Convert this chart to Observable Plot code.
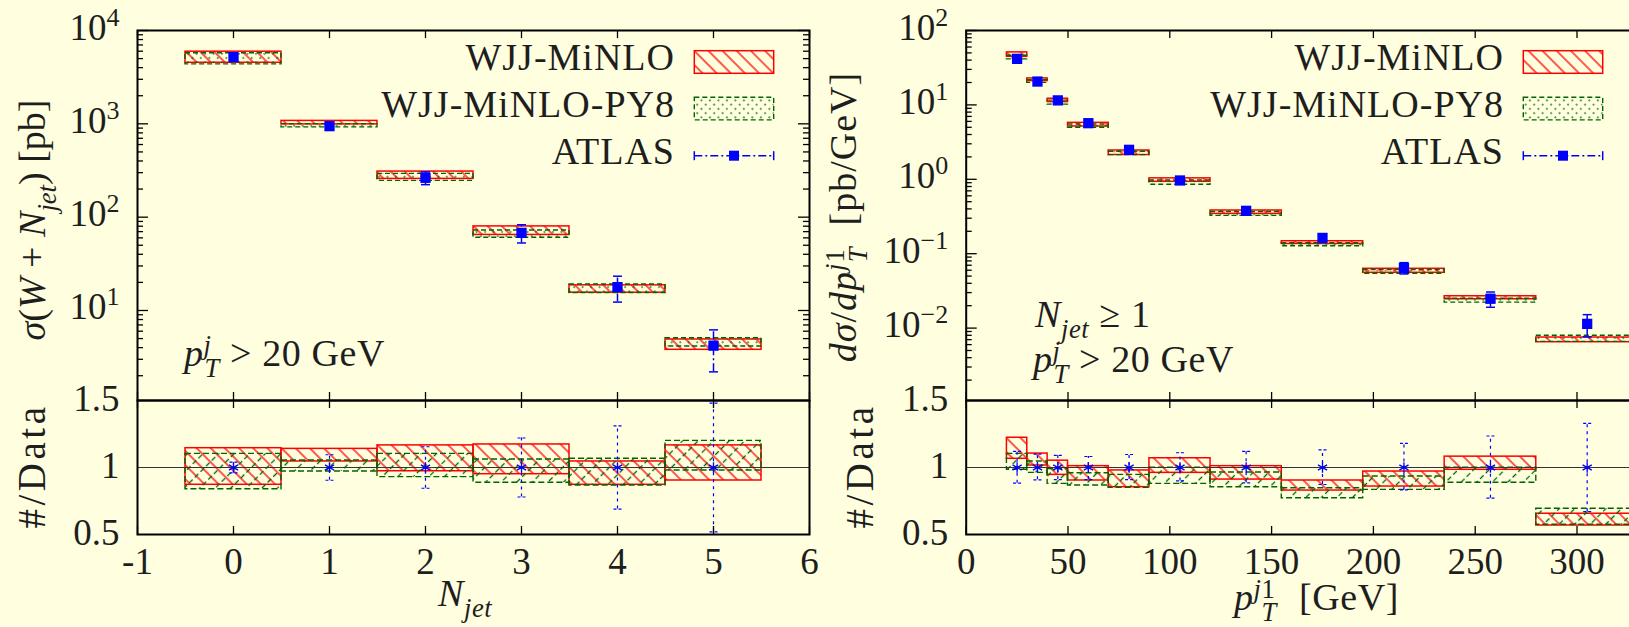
<!DOCTYPE html>
<html>
<head>
<meta charset="utf-8">
<script src="https://cdn.jsdelivr.net/npm/d3@7"></script>
<script src="https://cdn.jsdelivr.net/npm/@observablehq/plot@0.6"></script>
<style>
  html, body { margin: 0; padding: 0; background: #ffffe0; overflow: hidden; }
  #fig { position: relative; width: 1629px; height: 627px; overflow: hidden; background: #ffffe0; }
  #fig svg.panel { position: absolute; max-width: none; overflow: visible; }
  #fig svg text, #fig svg tspan { font-family: "Liberation Serif", "DejaVu Serif", serif !important; }
</style>
</head>
<body>
<svg width="0" height="0" style="position:absolute;left:0;top:0">
  <defs>
    <pattern id="hatchRed" patternUnits="userSpaceOnUse" width="10" height="10" patternTransform="rotate(-45)">
      <line x1="5" y1="-1" x2="5" y2="11" stroke="#ff0000" stroke-width="1.3"/>
    </pattern>
    <pattern id="hatchGreen" patternUnits="userSpaceOnUse" width="11" height="16" patternTransform="rotate(45)">
      <line x1="5.5" y1="0" x2="5.5" y2="16" stroke="#006400" stroke-width="1.3" stroke-dasharray="5,3"/>
    </pattern>
    <pattern id="dotsGreen" patternUnits="userSpaceOnUse" width="6" height="6" patternTransform="rotate(45)">
      <line x1="3" y1="0" x2="3" y2="6" stroke="#006400" stroke-width="1.2" stroke-dasharray="2,4"/>
    </pattern>
  </defs>
</svg>
<div id="fig"></div>
<script>
// ---------- W + jets exclusive jet multiplicity ----------
const njetX   = [0, 1, 2, 3, 4, 5];
const njetLo  = [-0.5, 0.5, 1.5, 2.5, 3.5, 4.5];
const njetHi  = [0.5, 1.5, 2.5, 3.5, 4.5, 5.5];
const njetAtlas    = [5180, 944, 264, 67.9, 17.8, 4.2];
const njetAtlasErr = [207, 90, 41, 15, 5.5, 2.0];
const njetMinloLo  = [4510, 986, 257, 64.5, 15.5, 3.79];
const njetMinloHi  = [5930, 1075, 308, 79.6, 18.6, 4.89];
const njetPy8Lo    = [4340, 916, 245, 60.2, 15.4, 4.11];
const njetPy8Hi    = [5710, 993, 291, 72.0, 19.0, 5.04];
const njetRatioMinloLo = [0.871, 1.045, 0.972, 0.950, 0.871, 0.903];
const njetRatioMinloHi = [1.144, 1.139, 1.165, 1.172, 1.045, 1.165];
const njetRatioPy8Lo   = [0.838, 0.970, 0.928, 0.886, 0.866, 0.978];
const njetRatioPy8Hi   = [1.102, 1.052, 1.102, 1.060, 1.065, 1.199];
const njetRatioAtlasErr = [0.04, 0.095, 0.155, 0.22, 0.31, 0.48];

// ---------- leading-jet transverse momentum ----------
const ptX  = [25, 35, 45, 60, 80, 105, 137.5, 175, 215, 257.5, 305];
const ptLo = [20, 30, 40, 50, 70, 90, 120, 155, 195, 235, 280];
const ptHi = [30, 40, 50, 70, 90, 120, 155, 195, 235, 280, 330];
const ptAtlas    = [41.6, 20.6, 11.5, 5.68, 2.49, 0.964, 0.377, 0.163, 0.0646, 0.0248, 0.0114];
const ptAtlasErr = [5.0, 2.06, 1.04, 0.48, 0.24, 0.101, 0.044, 0.0212, 0.0112, 0.00575, 0.00376];
const ptMinloLo  = [44.3, 20.9, 10.9, 5.13, 2.12, 0.925, 0.343, 0.135, 0.0554, 0.0244, 0.00646];
const ptMinloHi  = [50.8, 22.7, 12.1, 5.74, 2.44, 1.03, 0.381, 0.147, 0.0627, 0.0268, 0.00747];
const ptPy8Lo    = [40.9, 19.8, 10.1, 4.92, 2.11, 0.846, 0.322, 0.126, 0.0538, 0.0220, 0.00653];
const ptPy8Hi    = [45.8, 21.5, 11.4, 5.44, 2.35, 0.962, 0.363, 0.138, 0.0603, 0.0248, 0.00789];
const ptRatioMinloLo = [1.065, 1.015, 0.945, 0.903, 0.853, 0.960, 0.910, 0.828, 0.858, 0.983, 0.567];
const ptRatioMinloHi = [1.222, 1.104, 1.051, 1.010, 0.978, 1.069, 1.010, 0.903, 0.970, 1.081, 0.655];
const ptRatioPy8Lo   = [0.983, 0.960, 0.878, 0.866, 0.848, 0.878, 0.853, 0.771, 0.833, 0.886, 0.573];
const ptRatioPy8Hi   = [1.102, 1.045, 0.988, 0.957, 0.945, 0.998, 0.963, 0.845, 0.933, 0.998, 0.692];
const ptRatioAtlasUp = [0.12, 0.10, 0.09, 0.082, 0.097, 0.11, 0.12, 0.132, 0.18, 0.235, 0.33];
const ptRatioAtlasDn = [0.117, 0.092, 0.09, 0.09, 0.09, 0.10, 0.114, 0.127, 0.167, 0.229, 0.33];

// ---------- axis ticks ----------
const njetTicks = [-1, 0, 1, 2, 3, 4, 5, 6];
const ptTicks = [0, 50, 100, 150, 200, 250, 300, 350];
const ptTickLabels = [0, 50, 100, 150, 200, 250, 300];
const njetDecades = [1e1, 1e2, 1e3, 1e4];
const ptDecades = [1e-2, 1e-1, 1e0, 1e1, 1e2];
const ratioTicks = [0.5, 1, 1.5];

const FONT = '"Liberation Serif", "DejaVu Serif", serif';
const INK = "#1e1e1e";
const RED = "#ff0000", GREEN = "#006400", BLUE = "#0000ff";

// horizontal bar used as error-bar end cap
const capSymbol = {draw(ctx, size) { const w = Math.sqrt(size / Math.PI); ctx.moveTo(-w, 0); ctx.lineTo(w, 0); }};

function logMinor([lo, hi]) {
  const out = [];
  for (let e = Math.floor(Math.log10(lo)); e <= Math.ceil(Math.log10(hi)); e++)
    for (let m = 2; m <= 9; m++) { const v = m * 10 ** e; if (v >= lo && v <= hi) out.push(v); }
  return out;
}

function frameTicks({xTicks, innerW, innerH, yMajor = [], yMinor = []}) {
  const s = {stroke: "black", strokeWidth: 1.3};
  return [
    Plot.tickX(xTicks, {x: d => d, insetBottom: innerH - 8, ...s}),
    Plot.tickX(xTicks, {x: d => d, insetTop: innerH - 8, ...s}),
    Plot.tickY(yMajor, {y: d => d, insetRight: innerW - 11, ...s}),
    Plot.tickY(yMajor, {y: d => d, insetLeft: innerW - 11, ...s}),
    Plot.tickY(yMinor, {y: d => d, insetRight: innerW - 6, ...s}),
    Plot.tickY(yMinor, {y: d => d, insetLeft: innerW - 6, ...s})
  ];
}

function topMarks(n, c) {
  const idx = d3.range(n);
  return [
    Plot.rect(idx, {x1: i => c.lo[i], x2: i => c.hi[i], y1: i => c.mlo[i], y2: i => c.mhi[i],
      fill: "url(#hatchRed)", stroke: RED, strokeWidth: 1.5}),
    Plot.rect(idx, {x1: i => c.lo[i], x2: i => c.hi[i], y1: i => c.plo[i], y2: i => c.phi[i],
      fill: "url(#dotsGreen)", stroke: GREEN, strokeWidth: 1.4, strokeDasharray: "5,3"}),
    Plot.ruleX(idx, {x: i => c.x[i], y1: i => c.d[i] - c.e[i], y2: i => c.d[i] + c.e[i],
      stroke: BLUE, strokeWidth: 1.5, strokeDasharray: "8,3,2,3"}),
    Plot.dot(idx, {x: i => c.x[i], y: i => c.d[i] + c.e[i], symbol: capSymbol, r: 4.5, stroke: BLUE, strokeWidth: 1.5}),
    Plot.dot(idx, {x: i => c.x[i], y: i => c.d[i] - c.e[i], symbol: capSymbol, r: 4.5, stroke: BLUE, strokeWidth: 1.5}),
    Plot.dot(idx, {x: i => c.x[i], y: i => c.d[i], symbol: "square", r: 5.8, fill: BLUE, stroke: "none"})
  ];
}

function ratioMarks(n, c) {
  const idx = d3.range(n);
  return [
    Plot.rect(idx, {x1: i => c.lo[i], x2: i => c.hi[i], y1: i => c.mlo[i], y2: i => c.mhi[i],
      fill: "url(#hatchRed)", stroke: RED, strokeWidth: 1.5}),
    Plot.rect(idx, {x1: i => c.lo[i], x2: i => c.hi[i], y1: i => c.plo[i], y2: i => c.phi[i],
      fill: "url(#hatchGreen)", stroke: GREEN, strokeWidth: 1.4, strokeDasharray: "6,3"}),
    Plot.ruleX(idx, {x: i => c.x[i], y1: i => 1 - c.dn[i], y2: i => 1 + c.up[i],
      stroke: BLUE, strokeWidth: 1.2, strokeDasharray: "3,4"}),
    Plot.dot(idx, {x: i => c.x[i], y: i => 1 + c.up[i], symbol: capSymbol, r: 4, stroke: BLUE, strokeWidth: 1.2, strokeDasharray: "3,2"}),
    Plot.dot(idx, {x: i => c.x[i], y: i => 1 - c.dn[i], symbol: capSymbol, r: 4, stroke: BLUE, strokeWidth: 1.2, strokeDasharray: "3,2"}),
    Plot.ruleY([1], {stroke: "#333", strokeWidth: 1.2}),
    Plot.dot(idx, {x: i => c.x[i], y: 1, symbol: "asterisk", r: 5, stroke: BLUE, strokeWidth: 1.3})
  ];
}

function logLabels(vals) {
  return Plot.text(vals, {y: d => d, text: d => "10^" + Math.round(Math.log10(d)), frameAnchor: "left",
    textAnchor: "end", lineAnchor: "bottom", dx: -18, dy: 9, fontSize: 37, fill: INK, fontFamily: FONT});
}
function ratioLabels() {
  return Plot.text(ratioTicks, {y: d => d, text: d => String(d), frameAnchor: "left",
    textAnchor: "end", lineAnchor: "bottom", dx: -18, dy: 10, fontSize: 37, fill: INK, fontFamily: FONT});
}
function xLabels(vals) {
  return Plot.text(vals, {x: d => d, text: d => String(d), frameAnchor: "bottom",
    lineAnchor: "bottom", dy: 39, fontSize: 37, fill: INK, fontFamily: FONT});
}

// turn "10^k" strings into a base with a raised exponent
function superscripts(svg) {
  d3.select(svg).selectAll("text").each(function () {
    const m = /^10\^(-?\d+)$/.exec(this.textContent);
    if (!m) return;
    const t = d3.select(this);
    t.text(null);
    t.append("tspan").text("10");
    t.append("tspan").attr("dy", -14).attr("font-size", 26).text(m[1].replace("-", "\u2212"));
  });
}

// text built from runs: [string, {i, sub, sup, dx}]
function rich(svg, {x, y, rotate = 0, anchor = "start", size = 38, spacing = 0.6, parts}) {
  const t = d3.select(svg).append("text")
    .attr("transform", `translate(${x},${y})` + (rotate ? ` rotate(${rotate})` : ""))
    .attr("text-anchor", anchor).attr("font-family", FONT).attr("font-size", size)
    .attr("fill", INK).attr("letter-spacing", spacing);
  let shift = 0;
  for (const [str, o = {}] of parts) {
    const target = o.sub ? size * 0.28 : o.sup ? -size * 0.32 : 0;
    const ts = t.append("tspan").text(str).attr("dy", target - shift);
    shift = target;
    if (o.i) ts.attr("font-style", "italic");
    if (o.sub || o.sup) ts.attr("font-size", size * 0.7);
    if (o.dx) ts.attr("dx", o.dx);
  }
}

function legend(svg, tx, sx) {
  const g = d3.select(svg).append("g").attr("font-family", FONT).attr("font-size", 38)
    .attr("fill", INK).attr("text-anchor", "end").attr("letter-spacing", 1);
  g.append("text").attr("x", tx).attr("y", 70).text("WJJ-MiNLO");
  g.append("text").attr("x", tx).attr("y", 117).text("WJJ-MiNLO-PY8");
  g.append("text").attr("x", tx).attr("y", 164).text("ATLAS");
  g.append("rect").attr("x", sx).attr("y", 50.7).attr("width", 79.4).attr("height", 22.6)
    .attr("fill", "url(#hatchRed)").attr("stroke", RED).attr("stroke-width", 1.5);
  g.append("rect").attr("x", sx).attr("y", 97.3).attr("width", 79.4).attr("height", 22.6)
    .attr("fill", "url(#dotsGreen)").attr("stroke", GREEN).attr("stroke-width", 1.4).attr("stroke-dasharray", "5,3");
  const ly = 155.7;
  g.append("line").attr("x1", sx).attr("x2", sx + 79.4).attr("y1", ly).attr("y2", ly)
    .attr("stroke", BLUE).attr("stroke-width", 1.5).attr("stroke-dasharray", "8,3,2,3");
  for (const cx of [sx, sx + 79.4])
    g.append("line").attr("x1", cx).attr("x2", cx).attr("y1", ly - 4.5).attr("y2", ly + 4.5)
      .attr("stroke", BLUE).attr("stroke-width", 1.5);
  g.append("rect").attr("x", sx + 39.7 - 5).attr("y", ly - 5).attr("width", 10).attr("height", 10).attr("fill", BLUE);
}

const fig = document.getElementById("fig");
function place(svg, left, top) {
  svg.classList.add("panel");
  svg.style.left = left + "px";
  svg.style.top = top + "px";
  fig.appendChild(svg);
  return svg;
}
const baseStyle = {background: "transparent", fontFamily: FONT, overflow: "visible"};

// ---------------- left: jet multiplicity ----------------
const LW = 820, LmL = 137, LmR = 11, LinnerW = LW - LmL - LmR;
const leftTopY = [10 ** (4 - 370 / 93.33), 1e4];
const leftTop = Plot.plot({
  width: LW, height: 400, marginLeft: LmL, marginRight: LmR, marginTop: 30, marginBottom: 0,
  x: {domain: [-1, 6], axis: null},
  y: {type: "log", domain: leftTopY, axis: null},
  style: baseStyle,
  marks: [
    ...topMarks(njetX.length, {x: njetX, lo: njetLo, hi: njetHi, d: njetAtlas, e: njetAtlasErr,
      mlo: njetMinloLo, mhi: njetMinloHi, plo: njetPy8Lo, phi: njetPy8Hi}),
    ...frameTicks({xTicks: njetTicks, innerW: LinnerW, innerH: 370, yMajor: njetDecades, yMinor: logMinor(leftTopY)}),
    Plot.frame({stroke: "black", strokeWidth: 2}),
    logLabels(njetDecades)
  ]
});
superscripts(leftTop);
legend(leftTop, 675, 694.3);
rich(leftTop, {x: 184, y: 366, size: 38, parts: [["p", {i: 1}], ["j", {i: 1, sup: 1}], ["T", {i: 1, sub: 1, dx: -7}], [" > 20 GeV"]]});
rich(leftTop, {x: 45, y: 220, rotate: -90, anchor: "middle", size: 38, spacing: 0,
  parts: [["\u03c3", {i: 1}], ["("], ["W", {i: 1}], [" + "], ["N", {i: 1}], ["jet", {i: 1, sub: 1}], [") [pb]"]]});
place(leftTop, 0, 0);

const leftBot = Plot.plot({
  width: LW, height: 227, marginLeft: LmL, marginRight: LmR, marginTop: 0, marginBottom: 93,
  x: {domain: [-1, 6], axis: null},
  y: {domain: [0.5, 1.5], axis: null},
  style: baseStyle,
  marks: [
    ...ratioMarks(njetX.length, {x: njetX, lo: njetLo, hi: njetHi, up: njetRatioAtlasErr, dn: njetRatioAtlasErr,
      mlo: njetRatioMinloLo, mhi: njetRatioMinloHi, plo: njetRatioPy8Lo, phi: njetRatioPy8Hi}),
    ...frameTicks({xTicks: njetTicks, innerW: LinnerW, innerH: 134}),
    Plot.frame({stroke: "black", strokeWidth: 2}),
    ratioLabels(),
    xLabels(njetTicks)
  ]
});
rich(leftBot, {x: 45, y: 66, rotate: -90, anchor: "middle", size: 39, spacing: 3.5, parts: [["#/Data"]]});
rich(leftBot, {x: 438, y: 206, size: 38, parts: [["N", {i: 1}], ["jet", {i: 1, sub: 1}]]});
place(leftBot, 0, 400);

// ---------------- right: leading-jet pT ----------------
const RW = 880, RmL = 145.7, RmR = 21.7, RinnerW = RW - RmL - RmR;
const rightTopY = [10 ** (2 - 370 / 74.4), 1e2];
const rightTop = Plot.plot({
  width: RW, height: 400, marginLeft: RmL, marginRight: RmR, marginTop: 30, marginBottom: 0,
  x: {domain: [0, 350], axis: null},
  y: {type: "log", domain: rightTopY, axis: null},
  style: baseStyle,
  marks: [
    ...topMarks(ptX.length, {x: ptX, lo: ptLo, hi: ptHi, d: ptAtlas, e: ptAtlasErr,
      mlo: ptMinloLo, mhi: ptMinloHi, plo: ptPy8Lo, phi: ptPy8Hi}),
    ...frameTicks({xTicks: ptTicks, innerW: RinnerW, innerH: 370, yMajor: ptDecades, yMinor: logMinor(rightTopY)}),
    Plot.frame({stroke: "black", strokeWidth: 2}),
    logLabels(ptDecades)
  ]
});
superscripts(rightTop);
legend(rightTop, 684, 703.3);
rich(rightTop, {x: 215, y: 327, size: 38, parts: [["N", {i: 1}], ["jet", {i: 1, sub: 1}], [" \u2265 1"]]});
rich(rightTop, {x: 213, y: 372, size: 38, parts: [["p", {i: 1}], ["j", {i: 1, sup: 1}], ["T", {i: 1, sub: 1, dx: -7}], [" > 20 GeV"]]});
rich(rightTop, {x: 36, y: 217, rotate: -90, anchor: "middle", size: 38, spacing: 1,
  parts: [["d\u03c3", {i: 1}], ["/"], ["dp", {i: 1}], ["j", {i: 1, sup: 1}], ["1", {sup: 1}], ["T", {i: 1, sub: 1, dx: -14}], ["  [pb/GeV]"]]});
place(rightTop, 820, 0);

const rightBot = Plot.plot({
  width: RW, height: 227, marginLeft: RmL, marginRight: RmR, marginTop: 0, marginBottom: 93,
  x: {domain: [0, 350], axis: null},
  y: {domain: [0.5, 1.5], axis: null},
  style: baseStyle,
  marks: [
    ...ratioMarks(ptX.length, {x: ptX, lo: ptLo, hi: ptHi, up: ptRatioAtlasUp, dn: ptRatioAtlasDn,
      mlo: ptRatioMinloLo, mhi: ptRatioMinloHi, plo: ptRatioPy8Lo, phi: ptRatioPy8Hi}),
    ...frameTicks({xTicks: ptTicks, innerW: RinnerW, innerH: 134}),
    Plot.frame({stroke: "black", strokeWidth: 2}),
    ratioLabels(),
    xLabels(ptTickLabels)
  ]
});
rich(rightBot, {x: 53, y: 66, rotate: -90, anchor: "middle", size: 39, spacing: 3.5, parts: [["#/Data"]]});
rich(rightBot, {x: 414, y: 210, size: 38, parts: [["p", {i: 1}], ["j", {i: 1, sup: 1}], ["1", {sup: 1}], ["T", {i: 1, sub: 1, dx: -14}], ["[GeV]", {dx: 22}]]});
place(rightBot, 820, 400);
</script>
</body>
</html>
